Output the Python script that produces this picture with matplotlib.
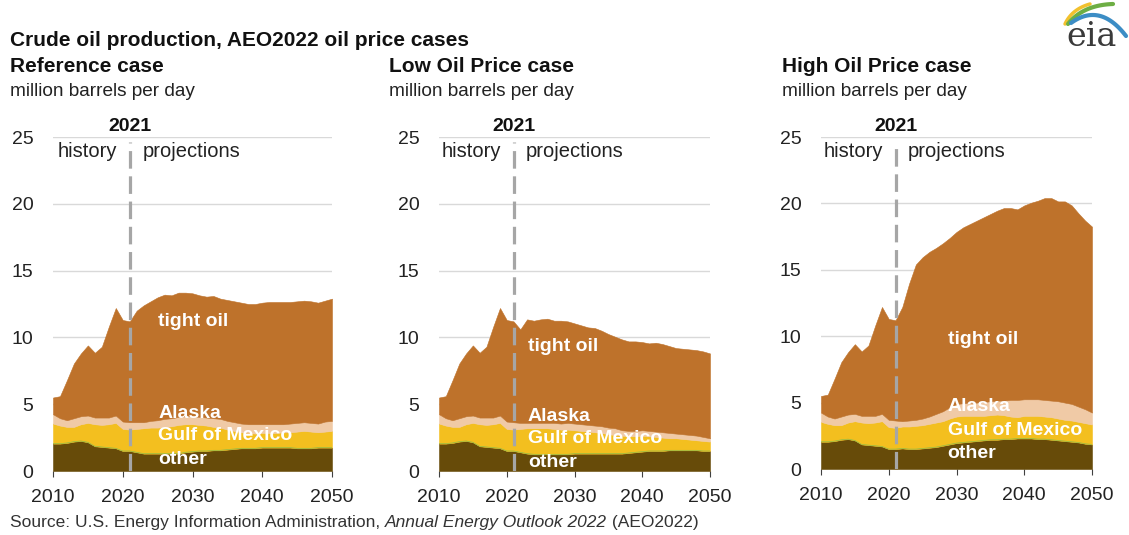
import numpy as np
import matplotlib
matplotlib.use('Agg')
import matplotlib.pyplot as plt

plt.rcParams['font.family'] = ['Liberation Sans', 'DejaVu Sans']

# years shown
years = list(range(2010, 2051))
last_hist_year = 2021

# history 2010-2021 (same in every case), million barrels per day
hist_other = [2.05, 2.05, 2.1, 2.2, 2.25, 2.15, 1.85, 1.8, 1.75, 1.7, 1.5, 1.5]
hist_gulf = [1.5, 1.35, 1.2, 1.1, 1.25, 1.45, 1.65, 1.65, 1.75, 1.9, 1.65, 1.6]
hist_alaska = [0.7, 0.55, 0.5, 0.65, 0.6, 0.55, 0.5, 0.55, 0.5, 0.55, 0.55, 0.55]
hist_tight = [1.25, 1.65, 3.0, 4.1, 4.7, 5.25, 4.85, 5.3, 6.8, 8.05, 7.6, 7.55]

# projections 2022-2050
ref_other = [1.4, 1.3, 1.3, 1.3, 1.3, 1.3, 1.3, 1.4, 1.45, 1.5, 1.5, 1.55, 1.55, 1.6, 1.65,
             1.7, 1.7, 1.7, 1.75, 1.75, 1.75, 1.75, 1.75, 1.7, 1.7, 1.7, 1.75, 1.75, 1.75]
ref_gulf = [1.75, 1.9, 1.95, 1.95, 2.0, 2.05, 2.15, 2.1, 2.05, 1.95, 1.9, 1.75, 1.7, 1.5, 1.35,
            1.2, 1.15, 1.1, 1.1, 1.1, 1.1, 1.15, 1.15, 1.25, 1.3, 1.25, 1.15, 1.2, 1.25]
ref_alaska = [0.5, 0.45, 0.5, 0.55, 0.6, 0.6, 0.6, 0.6, 0.6, 0.6, 0.6, 0.65, 0.65, 0.65, 0.65,
              0.65, 0.65, 0.7, 0.65, 0.65, 0.65, 0.6, 0.65, 0.65, 0.65, 0.65, 0.65, 0.75, 0.75]
ref_tight = [8.35, 8.75, 8.95, 9.2, 9.3, 9.2, 9.3, 9.25, 9.2, 9.1, 9.05, 9.15, 9.0, 9.05, 9.05,
             9.05, 9.0, 9.0, 9.1, 9.15, 9.15, 9.15, 9.1, 9.1, 9.1, 9.1, 9.05, 9.05, 9.15]

low_other = [1.4, 1.3, 1.25, 1.25, 1.25, 1.25, 1.25, 1.25, 1.3, 1.3, 1.3, 1.3, 1.3, 1.3, 1.3,
             1.3, 1.35, 1.4, 1.45, 1.5, 1.5, 1.5, 1.55, 1.55, 1.55, 1.55, 1.55, 1.5, 1.5]
low_gulf = [1.75, 1.9, 1.95, 1.95, 1.95, 1.9, 1.85, 1.85, 1.75, 1.7, 1.65, 1.6, 1.55, 1.45, 1.4,
            1.35, 1.25, 1.2, 1.2, 1.1, 1.05, 1.0, 0.9, 0.9, 0.85, 0.8, 0.75, 0.75, 0.7]
low_alaska = [0.45, 0.4, 0.4, 0.4, 0.4, 0.45, 0.45, 0.5, 0.5, 0.5, 0.5, 0.5, 0.5, 0.5, 0.5,
              0.4, 0.4, 0.4, 0.4, 0.4, 0.4, 0.4, 0.4, 0.35, 0.35, 0.35, 0.35, 0.3, 0.25]
low_tight = [7.0, 7.75, 7.65, 7.75, 7.8, 7.65, 7.7, 7.6, 7.5, 7.4, 7.3, 7.3, 7.15, 7.0, 6.85,
             6.8, 6.7, 6.7, 6.6, 6.55, 6.65, 6.6, 6.5, 6.4, 6.4, 6.4, 6.4, 6.4, 6.35]

high_other = [1.55, 1.5, 1.5, 1.55, 1.6, 1.65, 1.75, 1.85, 1.95, 2.0, 2.05, 2.1, 2.15, 2.2, 2.2,
              2.25, 2.25, 2.3, 2.3, 2.3, 2.25, 2.25, 2.2, 2.15, 2.1, 2.05, 2.0, 1.9, 1.85]
high_gulf = [1.65, 1.7, 1.75, 1.75, 1.8, 1.85, 1.85, 1.95, 2.0, 2.0, 1.95, 1.9, 1.85, 1.85, 1.9,
             1.8, 1.7, 1.6, 1.7, 1.7, 1.75, 1.7, 1.7, 1.65, 1.6, 1.6, 1.55, 1.55, 1.5]
high_alaska = [0.4, 0.45, 0.45, 0.5, 0.55, 0.65, 0.75, 0.85, 0.95, 0.95, 1.0, 1.0, 1.05, 1.05, 1.05,
               1.1, 1.25, 1.3, 1.25, 1.25, 1.25, 1.25, 1.25, 1.3, 1.3, 1.25, 1.15, 1.05, 0.9]
high_tight = [8.6, 10.3, 11.7, 12.15, 12.4, 12.5, 12.65, 12.75, 12.95, 13.25, 13.45, 13.7, 13.9, 14.1, 14.3,
              14.5, 14.45, 14.35, 14.6, 14.8, 14.95, 15.2, 15.25, 15.05, 15.15, 14.95, 14.55, 14.2, 14.0]

series_labels = ['other', 'Gulf of Mexico', 'Alaska', 'tight oil']
colors = ['#674B09', '#F3BF1F', '#F0CAA6', '#BE722B']

W, H = 1129, 535
fig = plt.figure(figsize=(W / 100, H / 100), dpi=100)


def fx(px):
    return px / W


def fy(py):
    return 1 - py / H


# (title, data, header x, axes box in px [left, right, top, bottom], label x, label ys)
cases = [
    ('Reference case', (ref_other, ref_gulf, ref_alaska, ref_tight),
     10, (53, 332, 137, 471), 2025.1, (0.85, 2.65, 4.3, 11.2)),
    ('Low Oil Price case', (low_other, low_gulf, low_alaska, low_tight),
     389, (439, 710, 137, 471), 2023.1, (0.65, 2.4, 4.1, 9.3)),
    ('High Oil Price case', (high_other, high_gulf, high_alaska, high_tight),
     782, (821, 1092, 137, 469), 2028.7, (1.2, 2.9, 4.7, 9.75)),
]

hist = (hist_other, hist_gulf, hist_alaska, hist_tight)

for title, proj, hx, box, lab_x, lab_ys in cases:
    left, right, top, bottom = box
    ax = fig.add_axes([fx(left), fy(bottom), fx(right - left), (bottom - top) / H])
    stacks = [np.array(h + p) for h, p in zip(hist, proj)]
    ax.stackplot(years, *stacks, colors=colors, linewidth=0.4, edgecolor='face')
    ax.plot(years, stacks[0], color='#86BC4A', lw=0.45)

    ax.set_xlim(2010, 2050)
    ax.set_ylim(0, 25)
    ax.set_xticks(range(2010, 2051, 10))
    ax.set_yticks(range(0, 26, 5))
    ax.set_axisbelow(True)
    ax.yaxis.grid(True, color='#D9D9D9', lw=1)
    for s in ax.spines.values():
        s.set_visible(False)
    ax.tick_params(axis='x', length=4, width=0.8, color='#404040', pad=9,
                   labelsize=14, labelcolor='#222222')
    ax.tick_params(axis='y', length=0, pad=14, labelsize=14, labelcolor='#222222')

    ax.axvline(last_hist_year, ymin=0, ymax=0.985, color='#A6A6A6', lw=2.3,
               dashes=(5.5, 2.4))
    ax.text(last_hist_year, 25.8, str(last_hist_year), ha='center', va='center',
            fontsize=14, fontweight='bold', color='#111111', clip_on=False)
    ax.text(last_hist_year - 1.8, 23.9, 'history', ha='right', va='center',
            fontsize=14.5, color='#222222')
    ax.text(last_hist_year + 1.8, 23.9, 'projections', ha='left', va='center',
            fontsize=14.5, color='#222222')

    for name, ly in zip(series_labels, lab_ys):
        ax.text(lab_x, ly, name, ha='left', va='center', fontsize=14,
                fontweight='bold', color='white')

    fig.text(fx(hx), fy(72), title, fontsize=15, fontweight='bold',
             color='#111111', va='baseline')
    fig.text(fx(hx), fy(96), 'million barrels per day', fontsize=13.7,
             color='#222222', va='baseline')

fig.text(fx(10), fy(46), 'Crude oil production, AEO2022 oil price cases',
         fontsize=15, fontweight='bold', color='#111111', va='baseline')

# source line with italic title
fig.canvas.draw()
r = fig.canvas.get_renderer()
src_y = fy(522)
t1 = fig.text(fx(10), src_y, 'Source: U.S. Energy Information Administration, ',
              fontsize=12.5, color='#333333', va='center')
b1 = t1.get_window_extent(r)
t2 = fig.text(b1.x1 / W, src_y, 'Annual Energy Outlook 2022', fontsize=12.5,
              style='italic', color='#333333', va='center')
b2 = t2.get_window_extent(r)
fig.text(b2.x1 / W, src_y, ' (AEO2022)', fontsize=12.5, color='#333333', va='center')

# eia logo
lax = fig.add_axes([fx(1040), fy(70), fx(89), 70 / H])
lax.set_xlim(1040, 1129)
lax.set_ylim(70, 0)
lax.axis('off')
t = np.linspace(0, 1, 50)
swooshes = [((1065, 24), (1072, 9), (1090, 4), '#F2C12E', 2.5),
            ((1068, 24), (1083, 5), (1113, 4), '#6DAE44', 3.0),
            ((1071, 23), (1100, 2), (1126, 36), '#3C8DC5', 3.0)]
for p0, p1, p2, c, lw in swooshes:
    xs = (1 - t) ** 2 * p0[0] + 2 * (1 - t) * t * p1[0] + t ** 2 * p2[0]
    ys = (1 - t) ** 2 * p0[1] + 2 * (1 - t) * t * p1[1] + t ** 2 * p2[1]
    lax.plot(xs, ys, color=c, lw=lw, solid_capstyle='round')
lax.text(1092, 46, 'eia', ha='center', va='baseline', fontsize=24,
         family='DejaVu Serif', color='#3A3A3A')

fig.savefig('out.png', dpi=100)
